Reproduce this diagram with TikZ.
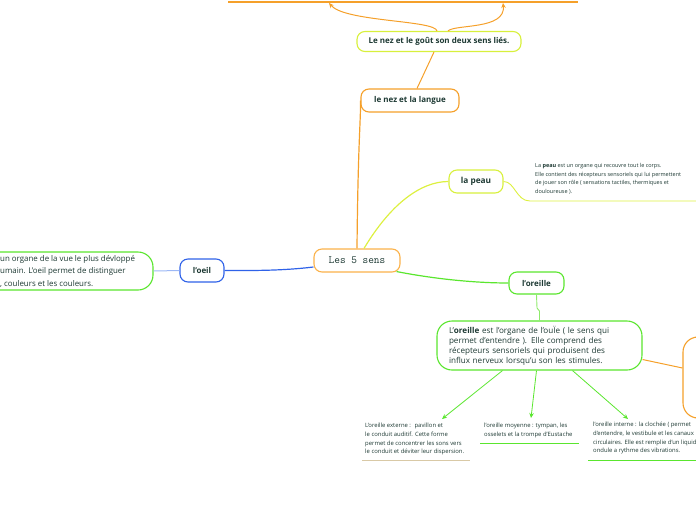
\documentclass[tikz,border=0pt]{standalone}
\usepackage{fontspec}
\setmainfont{Open Sans}
\usetikzlibrary{calc,arrows.meta}
\definecolor{txt}{HTML}{1E3A34}
\definecolor{orC}{HTML}{F5A02A}
\definecolor{cenC}{HTML}{FBB24A}
\definecolor{ygC}{HTML}{D8F03C}
\definecolor{pyC}{HTML}{DDF040}
\definecolor{blC}{HTML}{2F62E8}
\definecolor{blLight}{HTML}{9DB8F5}
\definecolor{grC}{HTML}{5AE62E}
\definecolor{grLight}{HTML}{8EEA6A}
\definecolor{tanC}{HTML}{D9C9A6}
\begin{document}
\begin{tikzpicture}[x=1pt,y=-1pt,
  box/.style={draw, rounded corners=8pt, line width=1.1pt, text=txt, fill=white,
    font=\fontsize{8}{9}\bfseries\selectfont, inner sep=0pt},
  conn/.style={line width=1.2pt},
  tinytxt/.style={text=txt, inner sep=0pt, anchor=north west, align=left,
    font=\fontsize{5.9}{8.7}\selectfont},
  tip/.style={-{Stealth[length=5pt,width=4.5pt]}}]
\useasboundingbox (0,0) rectangle (696,520);
\clip (0,0) rectangle (696,520);

% top cut-off line
\coordinate (tlA) at (228,2);
\coordinate (tlB) at (578,2);
\draw[orC, line width=1.4pt] (tlA) -- (tlB);

% nodes
\node[box, draw=cenC, minimum width=86pt, minimum height=23pt,
  font=\ttfamily\fontsize{11}{12}\selectfont] (center) at (357,260.5) {Les 5 sens};
\node[box, draw=orC, minimum width=98pt, minimum height=23pt] (nezlangue) at (410,100.5) {le nez et la langue};
\node[box, draw=ygC, minimum width=164pt, minimum height=20pt] (nezgout) at (439,41.5) {Le nez et le goût son deux sens liés.};
\node[box, draw=ygC, minimum width=54pt, minimum height=23pt,
  font=\fontsize{8.3}{9}\bfseries\selectfont] (peau) at (476,181.5) {la peau};
\node[box, draw=blC, minimum width=44pt, minimum height=23pt] (oeil) at (202,270.5) {l'oeil};
\node[box, draw=grC, minimum width=55pt, minimum height=22pt] (oreille) at (536.5,283) {l'oreille};
\node[box, draw=grC, rounded corners=15pt, text width=181pt, inner xsep=12pt, inner ysep=0pt,
  minimum height=49pt, align=left, font=\fontsize{8.1}{10}\selectfont] (oreilledesc) at (539.5,345.5)
  {L'\textbf{oreille} est l'organe de l'ouÏe ( le sens qui\\ permet d'entendre ). Elle comprend des\\ récepteurs sensoriels qui produisent des\\ influx nerveux lorsqu'u son les stimules.};
\node[box, draw=orC, rounded corners=15pt, minimum width=60pt, minimum height=81pt] (obox) at (713,377.5) {};
\node[box, draw=grC, rounded corners=15pt, minimum width=233pt, minimum height=38pt] (oeildesc) at (36.5,271) {};
\node[anchor=west, inner sep=0pt, align=left, text=txt, font=\fontsize{7.9}{12.5}\selectfont] (oeiltext) at (0,271)
  {un organe de la vue le plus dévloppé\\ umain. L'oeil permet de distinguer\\ , couleurs et les couleurs.};
\node[tinytxt, font=\fontsize{5.5}{8.7}\selectfont] (peautext) at (535,163)
  {La \textbf{peau} est un organe qui recouvre tout le corps.\\ Elle contient des récepteurs sensoriels qui lui permettent\\ de jouer son rôle ( sensations tactiles, thermiques et\\ douloureuse ).};
\node[tinytxt] (extxt) at (365,423)
  {L'oreille externe :~ pavillon et\\ le conduit auditif. Cette forme\\ permet de concentrer les sons vers\\ le conduit et déviter leur dispersion.};
\node[tinytxt] (moytxt) at (484,423)
  {l'oreille moyenne : tympan, les\\ osselets et la trompe d'Eustache};
\node[tinytxt] (inttxt) at (593,422)
  {l'oreille interne : la clochée ( permet\\ d'entendre, le vestibule et les canaux\\ circulaires. Elle est remplie d'un liquide\\ ondule a rythme des vibrations.};

% connectors
\draw[orC, conn] (center.north) .. controls (358,140) and (361,118) .. (nezlangue.west);
\draw[orC, line width=1pt] ($(nezlangue.north)+(7,0)$) -- ($(nezgout.south)+(-5,0)$);
\coordinate (t1) at (329,3);
\coordinate (t2) at (503,3);
\draw[orC, line width=1pt, tip] ($(nezgout.north)+(-2,0)$) .. controls (435,20) and (345,22) .. (t1);
\draw[orC, line width=1pt, tip] ($(nezgout.north)+(9,0)$) .. controls (455,24) and (506,30) .. (t2);

\draw[pyC, conn] ($(center.north)+(7,0)$) .. controls (390,205) and (420,181.5) .. (peau.west);
\coordinate (pu1) at (530,201);
\coordinate (pu2) at (696,201);
\draw[pyC, line width=0.9pt] (peau.east) .. controls (515,181.5) and (516,201) .. (pu1) -- (pu2);

\draw[blC, conn] ($(center.west)+(0,6.5)$) .. controls (280,271) and (250,270.5) .. (oeil.east);
\draw[blLight, line width=1pt] (oeil.west) -- (oeildesc.east);

\draw[grC, conn] ($(center.south east)+(-4,-1)$) .. controls (440,280) and (480,283) .. (oreille.west);
\coordinate (oj1) at (537,308);
\coordinate (oj2) at (539.5,311);
\draw[grLight, line width=0.9pt] (oreille.south) -- (oj1) -- (oj2) -- (oreilledesc.north);

\draw[orC, line width=1pt] ($(oreilledesc.east)+(0,14)$) -- ($(obox.west)+(0,-9.5)$);

\coordinate (a1) at (442,419);
\coordinate (a2) at (531,418);
\coordinate (a3) at (628,419);
\draw[grC, line width=0.8pt, tip] ($(oreilledesc.south)+(-37,0)$) -- (a1);
\draw[grC, line width=0.8pt, tip] ($(oreilledesc.south)+(-3,0)$) -- (a2);
\draw[grC, line width=0.8pt, tip] ($(oreilledesc.south)+(33,0)$) -- (a3);

% underlines
\coordinate (u1a) at (362,460); \coordinate (u1b) at (470,460);
\coordinate (u2a) at (480,443); \coordinate (u2b) at (579,443);
\coordinate (u3a) at (588,460); \coordinate (u3b) at (696,460);
\draw[tanC, line width=1pt] (u1a) -- (u1b);
\draw[grC, line width=1pt] (u2a) -- (u2b);
\draw[grC, line width=1pt] (u3a) -- (u3b);
\end{tikzpicture}
\end{document}
